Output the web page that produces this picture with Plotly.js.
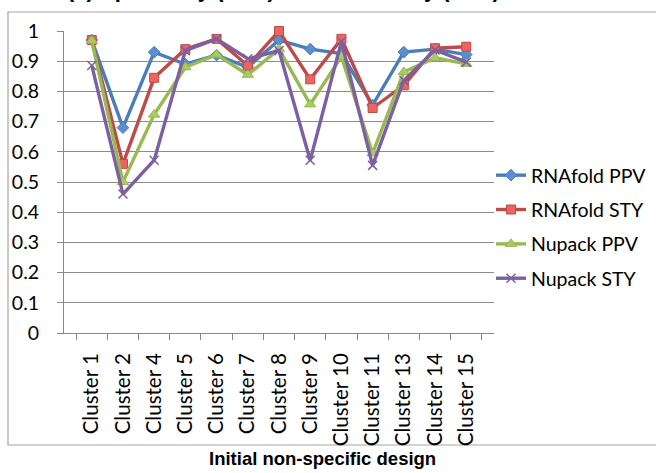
<!DOCTYPE html>
<html>
<head>
<meta charset="utf-8">
<script src="https://cdn.plot.ly/plotly-3.0.1.min.js"></script>
<style>
  html, body { margin: 0; padding: 0; background: #ffffff; }
  #chart { width: 656px; height: 473px; }
</style>
</head>
<body>
<div id="chart"></div>
<script>
// Clusters of the initial non-specific design
const clusters = ["Cluster 1", "Cluster 2", "Cluster 4", "Cluster 5", "Cluster 6", "Cluster 7",
  "Cluster 8", "Cluster 9", "Cluster 10", "Cluster 11", "Cluster 13", "Cluster 14", "Cluster 15"];

// Specificity (PPV) and sensitivity (STY) per cluster
const rnafoldPPV = [0.97, 0.68, 0.93, 0.89, 0.92, 0.88, 0.97, 0.94, 0.925, 0.755, 0.93, 0.94, 0.922];
const rnafoldSTY = [0.97, 0.56, 0.845, 0.94, 0.974, 0.885, 1.0, 0.84, 0.974, 0.745, 0.82, 0.943, 0.948];
const nupackPPV  = [0.968, 0.50, 0.723, 0.88, 0.922, 0.855, 0.94, 0.757, 0.915, 0.595, 0.864, 0.911, 0.891];
const nupackSTY  = [0.886, 0.46, 0.572, 0.935, 0.974, 0.908, 0.935, 0.572, 0.965, 0.555, 0.836, 0.937, 0.897];

const yTicks = [0, 0.1, 0.2, 0.3, 0.4, 0.5, 0.6, 0.7, 0.8, 0.9, 1];
const yTickText = ["0", "0.1", "0.2", "0.3", "0.4", "0.5", "0.6", "0.7", "0.8", "0.9", "1"];

const W = 656, H = 473;
const M = { l: 64, r: 162, t: 31, b: 140, autoexpand: false };
const plotW = W - M.l - M.r, plotH = H - M.t - M.b;
// pixel -> paper helpers for decorations outside the plot area
const px = x => (x - M.l) / plotW;
const py = y => (H - M.b - y) / plotH;

function series(name, y, color, symbol, fill, size) {
  return {
    type: "scatter", mode: "lines+markers", name: name, legendgroup: name,
    x: clusters, y: y,
    line: { color: color, width: 3.4 },
    marker: { symbol: symbol, size: size, color: fill, line: { color: color, width: 1 } },
    cliponaxis: false
  };
}

const data = [
  series("RNAfold PPV", rnafoldPPV, "#4A7EBB", "diamond", "#5B8FD0", 9),
  series("RNAfold STY", rnafoldSTY, "#BE4B48", "square", "#EC6460", 9),
  series("Nupack PPV", nupackPPV, "#98B954", "triangle-up", "#A8CC5E", 10),
  series("Nupack STY", nupackSTY, "#7D60A0", "x-thin", "#7D60A0", 9)
];
data[3].marker.line.width = 1.5;

const tickFont = { family: "Lato, sans-serif", size: 19.5, color: "#000000" };

const layout = {
  width: W, height: H,
  margin: M,
  paper_bgcolor: "#ffffff",
  plot_bgcolor: "#ffffff",
  showlegend: true,
  font: { family: "Lato, 'Open Sans', sans-serif", color: "#000000" },
  xaxis: {
    type: "category",
    tickson: "boundaries",
    ticks: "outside", ticklen: 6, tickcolor: "#888888",
    showgrid: false,
    showline: true, linecolor: "#888888", linewidth: 1,
    tickangle: -90,
    tickfont: { family: "Lato, sans-serif", size: 20.5, color: "#000000" },
    ticklabelstandoff: 11
  },
  yaxis: {
    range: [0, 1],
    tickvals: yTicks, ticktext: yTickText,
    ticks: "outside", ticklen: 6, tickcolor: "#888888",
    showgrid: true, gridcolor: "#8c8c8c", gridwidth: 1,
    showline: true, linecolor: "#888888", linewidth: 1,
    zeroline: false,
    tickfont: tickFont,
    ticklabelstandoff: 14
  },
  legend: {
    x: px(491), y: py(156), xanchor: "left", yanchor: "top",
    traceorder: "grouped", tracegroupgap: 6,
    font: { family: "Lato, sans-serif", size: 19.5, color: "#000000" },
    bgcolor: "rgba(0,0,0,0)", itemwidth: 30
  },
  shapes: [{
    type: "rect", xref: "paper", yref: "paper",
    x0: px(8), x1: px(664), y0: py(445), y1: py(12),
    line: { color: "#a6a6a6", width: 1.2 }, fillcolor: "rgba(0,0,0,0)", layer: "below"
  }],
  annotations: [
    {
      text: "<b>(a) Specificity (PPV) and Sensitivity (STY)</b>",
      xref: "paper", yref: "paper", x: px(283), y: py(4),
      xanchor: "center", yanchor: "bottom", showarrow: false,
      font: { family: "Arial, 'Liberation Sans', sans-serif", size: 22, color: "#000000" }
    },
    {
      text: "<b>Initial non-specific design</b>",
      xref: "paper", yref: "paper", x: px(322), y: py(458),
      xanchor: "center", yanchor: "middle", showarrow: false,
      font: { family: "Arial, 'Liberation Sans', sans-serif", size: 18.5, color: "#000000" }
    }
  ]
};

Plotly.newPlot("chart", data, layout, { displayModeBar: false, staticPlot: true });
</script>
</body>
</html>
